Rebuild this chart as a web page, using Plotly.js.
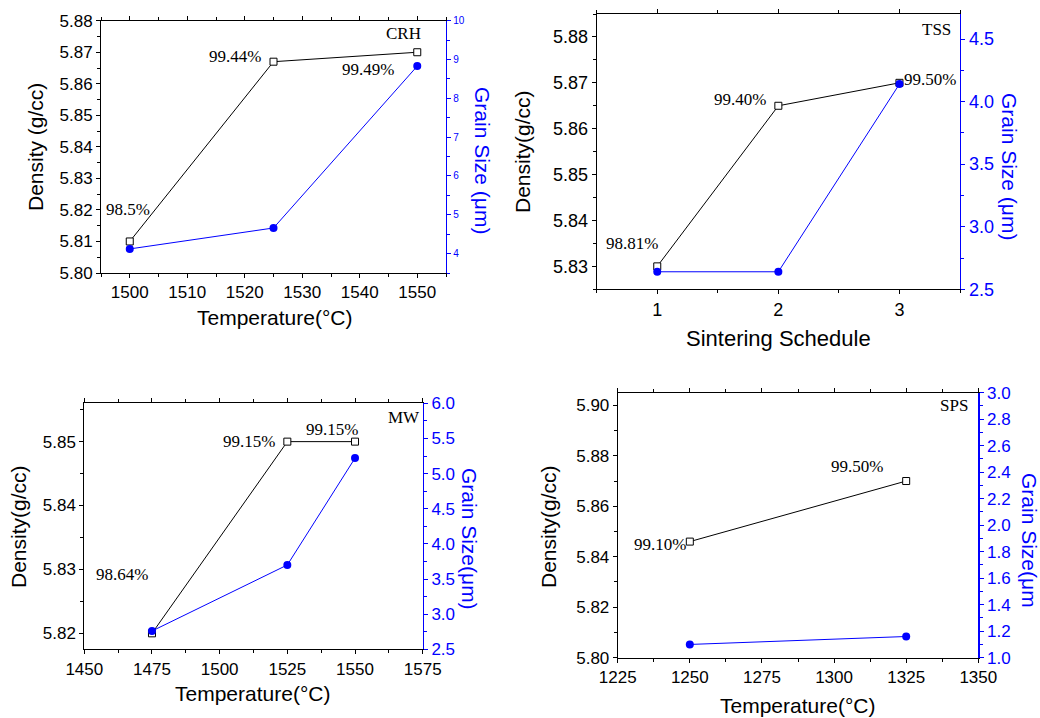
<!DOCTYPE html>
<html>
<head>
<meta charset="utf-8">
<script src="https://cdn.plot.ly/plotly-3.0.1.min.js"></script>
<style>html,body{margin:0;padding:0;background:#fff;}#chart{width:1040px;height:718px;}</style>
</head>
<body>
<div id="chart"></div>
<script>
// ---- Data ----
const crhTemp = [1500, 1525, 1550];
const crhDensity = [5.810, 5.867, 5.870];
const crhGrain = [4.12, 4.66, 8.83];
const crhLabels = ['98.5%', '99.44%', '99.49%'];

const tssSchedule = [1, 2, 3];
const tssDensity = [5.830, 5.865, 5.870];
const tssGrain = [2.64, 2.64, 4.14];
const tssLabels = ['98.81%', '99.40%', '99.50%'];

const mwTemp = [1475, 1525, 1550];
const mwDensity = [5.820, 5.850, 5.850];
const mwGrain = [2.76, 3.70, 5.22];
const mwLabels = ['98.64%', '99.15%', '99.15%'];

const spsTemp = [1250, 1325];
const spsDensity = [5.846, 5.870];
const spsGrain = [1.10, 1.16];
const spsLabels = ['99.10%', '99.50%'];

const panelNames = ['CRH', 'TSS', 'MW', 'SPS'];

// ---- Layout helpers ----
const W = 1040, H = 718;
const BLUE = '#0000ff';
const SANS = 'Liberation Sans, Arial, sans-serif';
const SERIF = 'Liberation Serif, Times New Roman, serif';
const px = v => v / W;
const py = v => 1 - v / H;

function densTrace(x, y, xa, ya) {
  return {x: x, y: y, xaxis: xa, yaxis: ya, type: 'scatter', mode: 'lines+markers',
    line: {color: 'black', width: 1},
    marker: {symbol: 'square', size: 7, color: 'white', line: {color: 'black', width: 1}},
    hoverinfo: 'x+y', showlegend: false};
}
function grainTrace(x, y, xa, ya) {
  return {x: x, y: y, xaxis: xa, yaxis: ya, type: 'scatter', mode: 'lines+markers',
    line: {color: BLUE, width: 1},
    marker: {symbol: 'circle', size: 8, color: BLUE},
    hoverinfo: 'x+y', showlegend: false};
}

const data = [
  densTrace(crhTemp, crhDensity, 'x', 'y'),
  grainTrace(crhTemp, crhGrain, 'x', 'y2'),
  densTrace(tssSchedule, tssDensity, 'x2', 'y3'),
  grainTrace(tssSchedule, tssGrain, 'x2', 'y4'),
  densTrace(mwTemp, mwDensity, 'x3', 'y5'),
  grainTrace(mwTemp, mwGrain, 'x3', 'y6'),
  densTrace(spsTemp, spsDensity, 'x4', 'y7'),
  grainTrace(spsTemp, spsGrain, 'x4', 'y8')
];

function xAxis(domain, anchor, range, dtick, minorDtick, fsize) {
  return {domain: domain, anchor: anchor, range: range, dtick: dtick, tick0: 0,
    showgrid: false, zeroline: false, showline: true, linecolor: 'black', linewidth: 1,
    mirror: 'ticks', ticks: 'outside', ticklen: 4, tickcolor: 'black', tickwidth: 1,
    minor: {ticks: 'outside', ticklen: 3, dtick: minorDtick, tickcolor: 'black', showgrid: false},
    tickfont: {family: SANS, size: fsize, color: 'black'}, fixedrange: true};
}
function yLeft(domain, anchor, range, dtick, tick0, minorDtick, fmt, fsize) {
  return {domain: domain, anchor: anchor, range: range, dtick: dtick, tick0: tick0,
    tickformat: fmt, showgrid: false, zeroline: false, showline: true, linecolor: 'black', linewidth: 1,
    ticks: 'outside', ticklen: 4, tickcolor: 'black', tickwidth: 1,
    minor: {ticks: 'outside', ticklen: 3, dtick: minorDtick, tick0: tick0, tickcolor: 'black', showgrid: false},
    tickfont: {family: SANS, size: fsize, color: 'black'}, fixedrange: true};
}
function yRight(overlay, anchor, range, dtick, tick0, minorDtick, fmt, fsize) {
  return {overlaying: overlay, anchor: anchor, side: 'right', range: range, dtick: dtick, tick0: tick0,
    tickformat: fmt, showgrid: false, zeroline: false, showline: true, linecolor: BLUE, linewidth: 1.3,
    ticks: 'outside', ticklen: 4, tickcolor: BLUE, tickwidth: 1,
    minor: {ticks: 'outside', ticklen: 3, dtick: minorDtick, tick0: tick0, tickcolor: BLUE, showgrid: false},
    tickfont: {family: SANS, size: fsize, color: BLUE}, fixedrange: true};
}

const d1x = [px(101), px(446)], d1y = [py(273), py(20.7)];
const d2x = [px(596.7), px(960)], d2y = [py(289.3), py(14)];
const d3x = [px(84.3), px(422.7)], d3y = [py(649.3), py(403.3)];
const d4x = [px(617.7), px(978.3)], d4y = [py(657.7), py(392.7)];

const layout = {
  width: W, height: H, margin: {l: 0, r: 0, t: 0, b: 0},
  paper_bgcolor: 'white', plot_bgcolor: 'white', showlegend: false,
  xaxis:  xAxis(d1x, 'y', [1495, 1555], 10, 5, 17),
  yaxis:  yLeft(d1y, 'x', [5.80, 5.88], 0.01, 5.80, 0.005, '.2f', 17),
  yaxis2: yRight('y', 'x', [3.5, 10], 1, 0, 0.5, 'd', 10),

  xaxis2: xAxis(d2x, 'y3', [0.5, 3.5], 1, 0.5, 18),
  yaxis3: yLeft(d2y, 'x2', [5.825, 5.885], 0.01, 5.80, 0.005, '.2f', 18),
  yaxis4: yRight('y3', 'x2', [2.5, 4.7], 0.5, 0, 0.25, '.1f', 18),

  xaxis3: xAxis(d3x, 'y5', [1450, 1575], 25, 12.5, 17),
  yaxis5: yLeft(d3y, 'x3', [5.8175, 5.856], 0.01, 5.80, 0.005, '.2f', 17),
  yaxis6: yRight('y5', 'x3', [2.5, 6.0], 0.5, 0, 0.25, '.1f', 17),

  xaxis4: xAxis(d4x, 'y7', [1225, 1350], 25, 12.5, 17),
  yaxis7: yLeft(d4y, 'x4', [5.80, 5.905], 0.02, 5.80, 0.01, '.2f', 17),
  yaxis8: yRight('y7', 'x4', [1.0, 3.0], 0.2, 0, 0.1, '.1f', 17),
  annotations: []
};

function ann(text, x, y, opts) {
  const a = Object.assign({text: text, x: px(x), y: py(y), xref: 'paper', yref: 'paper',
    xanchor: 'center', yanchor: 'middle', showarrow: false,
    font: {family: SERIF, size: 17, color: 'black'}}, opts || {});
  layout.annotations.push(a);
}
function titleL(text, x, y, size) { ann(text, x, y, {textangle: -90, font: {family: SANS, size: size, color: 'black'}}); }
function titleR(text, x, y, size) { ann(text, x, y, {textangle: 90, font: {family: SANS, size: size, color: BLUE}}); }
function titleB(text, x, y, size) { ann(text, x, y, {font: {family: SANS, size: size, color: 'black'}}); }

// Panel 1 (CRH)
titleL('Density (g/cc)', 35, 147, 21);
titleR('Grain Size (μm)', 482, 160, 21);
titleB('Temperature(°C)', 274, 317, 21);
ann(crhLabels[0], 128, 209);
ann(crhLabels[1], 235, 56);
ann(crhLabels[2], 368, 70);
ann(panelNames[0], 403, 34);

// Panel 2 (TSS)
titleL('Density(g/cc)', 522, 152, 21);
titleR('Grain Size (μm)', 1010, 166, 21);
titleB('Sintering Schedule', 778, 338, 22);
ann(tssLabels[0], 632, 244);
ann(tssLabels[1], 740, 99);
ann(tssLabels[2], 930, 79);
ann(panelNames[1], 936, 29);

// Panel 3 (MW)
titleL('Density(g/cc)', 18, 527, 21);
titleR('Grain Size(μm)', 470, 539, 21);
titleB('Temperature(°C)', 252, 693, 21);
ann(mwLabels[0], 122, 574);
ann(mwLabels[1], 249, 441);
ann(mwLabels[2], 332, 430);
ann(panelNames[2], 404, 417);

// Panel 4 (SPS)
titleL('Density(g/cc)', 548, 527, 21);
titleR('Grain Size(μm', 1030, 540, 21);
titleB('Temperature(°C)', 797, 705, 21);
ann(spsLabels[0], 660, 544);
ann(spsLabels[1], 857, 466);
ann(panelNames[3], 954, 405);

Plotly.newPlot('chart', data, layout, {displayModeBar: false, staticPlot: true});
</script>
</body>
</html>
